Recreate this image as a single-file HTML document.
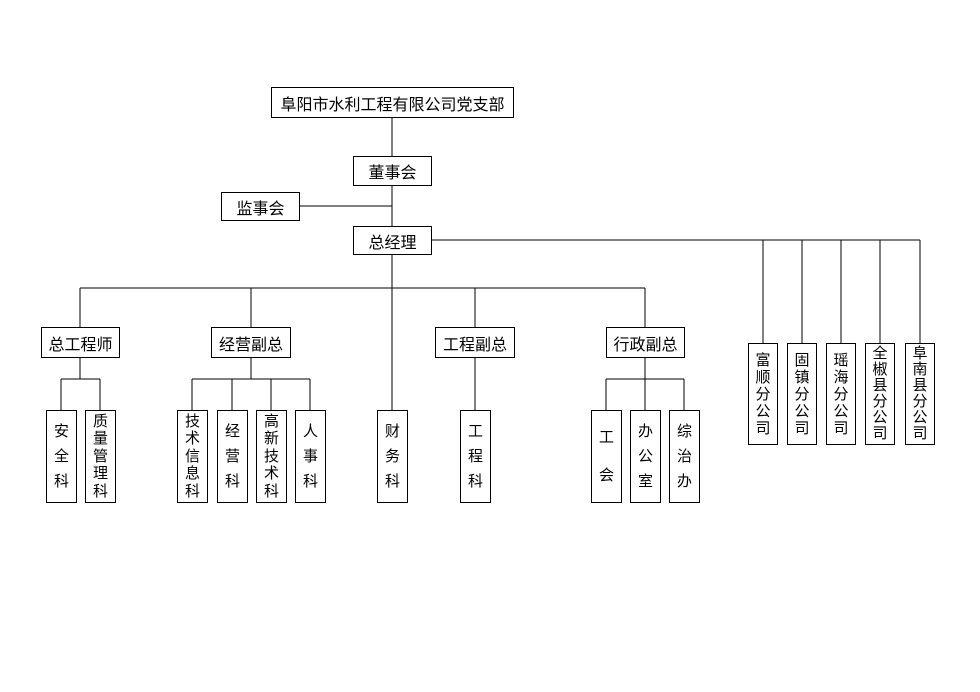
<!DOCTYPE html>
<html><head><meta charset="utf-8"><style>
body{margin:0;background:#fff;width:980px;height:692px;position:relative;overflow:hidden;font-family:"Liberation Sans","Noto Sans CJK SC",sans-serif;color:#000}
.b{position:absolute;border:1px solid #000;box-sizing:border-box;background:#fff;display:flex;align-items:center;justify-content:center;font-size:16px}
.v{flex-direction:column;font-size:15px}
.v span{display:block;text-align:center}
svg{position:absolute;left:0;top:0}
</style></head><body>
<svg width="980" height="692" stroke="#000" stroke-width="1" fill="none">
<path d="M392 117V410 M299 206H392 M431 240H920 M763 240V343 M802 240V343 M841 240V343 M880 240V343 M920 240V343
M80 288H645 M80 288V327 M251 288V327 M475 288V327 M645 288V327
M80 357V379 M61 379H100 M61 379V410 M100 379V410
M251 357V379 M192 379H310 M192 379V410 M232 379V410 M271 379V410 M310 379V410
M475 357V410
M645 357V379 M606 379H684 M606 379V410 M645 379V410 M684 379V410"/>
</svg>
<div class="b" style="left:271px;top:87px;width:243px;height:31px">阜阳市水利工程有限公司党支部</div>
<div class="b" style="left:353px;top:156px;width:79px;height:30px">董事会</div>
<div class="b" style="left:221px;top:192px;width:79px;height:29px">监事会</div>
<div class="b" style="left:353px;top:226px;width:79px;height:29px">总经理</div>
<div class="b" style="left:41px;top:327px;width:79px;height:31px">总工程师</div>
<div class="b" style="left:211px;top:327px;width:80px;height:31px">经营副总</div>
<div class="b" style="left:435px;top:327px;width:80px;height:31px">工程副总</div>
<div class="b" style="left:606px;top:327px;width:79px;height:31px">行政副总</div>

<div class="b v" style="left:46px;top:410px;width:31px;height:93px;line-height:25px"><span>安</span><span>全</span><span>科</span></div>
<div class="b v" style="left:85px;top:410px;width:31px;height:93px;line-height:17.5px"><span>质</span><span>量</span><span>管</span><span>理</span><span>科</span></div>
<div class="b v" style="left:177px;top:410px;width:31px;height:93px;line-height:17.5px"><span>技</span><span>术</span><span>信</span><span>息</span><span>科</span></div>
<div class="b v" style="left:217px;top:410px;width:31px;height:93px;line-height:25px"><span>经</span><span>营</span><span>科</span></div>
<div class="b v" style="left:256px;top:410px;width:31px;height:93px;line-height:17.5px"><span>高</span><span>新</span><span>技</span><span>术</span><span>科</span></div>
<div class="b v" style="left:295px;top:410px;width:31px;height:93px;line-height:25px"><span>人</span><span>事</span><span>科</span></div>
<div class="b v" style="left:377px;top:410px;width:31px;height:93px;line-height:25px"><span>财</span><span>务</span><span>科</span></div>
<div class="b v" style="left:460px;top:410px;width:31px;height:93px;line-height:25px"><span>工</span><span>程</span><span>科</span></div>
<div class="b v" style="left:591px;top:410px;width:31px;height:93px;line-height:38px"><span>工</span><span>会</span></div>
<div class="b v" style="left:630px;top:410px;width:31px;height:93px;line-height:25px"><span>办</span><span>公</span><span>室</span></div>
<div class="b v" style="left:669px;top:410px;width:31px;height:93px;line-height:25px"><span>综</span><span>治</span><span>办</span></div>

<div class="b v" style="left:748px;top:343px;width:30px;height:102px;line-height:17px"><span>富</span><span>顺</span><span>分</span><span>公</span><span>司</span></div>
<div class="b v" style="left:787px;top:343px;width:30px;height:102px;line-height:17px"><span>固</span><span>镇</span><span>分</span><span>公</span><span>司</span></div>
<div class="b v" style="left:826px;top:343px;width:30px;height:102px;line-height:17px"><span>瑶</span><span>海</span><span>分</span><span>公</span><span>司</span></div>
<div class="b v" style="left:865px;top:343px;width:30px;height:102px;line-height:16px"><span>全</span><span>椒</span><span>县</span><span>分</span><span>公</span><span>司</span></div>
<div class="b v" style="left:905px;top:343px;width:30px;height:102px;line-height:16px"><span>阜</span><span>南</span><span>县</span><span>分</span><span>公</span><span>司</span></div>
</body></html>
